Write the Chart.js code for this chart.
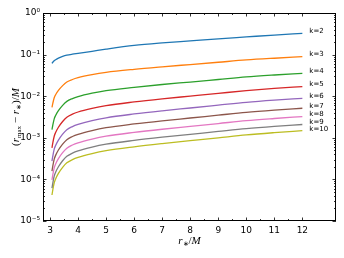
<!DOCTYPE html>
<html>
<head>
<meta charset="utf-8">
<script src="https://cdn.jsdelivr.net/npm/chart.js@4"></script>
<style>
  html, body { margin: 0; padding: 0; background: #fff; }
</style>
</head>
<body>
<canvas id="rmaxChart" width="344" height="258"></canvas>
<script>
// r_* / M sample positions
const rStar = [3.07, 3.1, 3.15, 3.2, 3.3, 3.45, 3.6, 3.8, 4, 4.5, 5, 6, 7, 8, 9, 10, 11, 12];

// (r_max - r_*) / M for each k
const k2  = [0.0617, 0.0653, 0.0708, 0.075, 0.0822, 0.0902, 0.0966, 0.1023, 0.107, 0.120, 0.135, 0.166, 0.191, 0.214, 0.240, 0.266, 0.295, 0.324];
const k3  = [0.00537, 0.00673, 0.00916, 0.01084, 0.0138, 0.01797, 0.0219, 0.0252, 0.0278, 0.0329, 0.0373, 0.0442, 0.0508, 0.0577, 0.0655, 0.0743, 0.0818, 0.0891];
const k4  = [0.00158, 0.00203, 0.00286, 0.00345, 0.00449, 0.00603, 0.0075, 0.00876, 0.00977, 0.0118, 0.0136, 0.0163, 0.0191, 0.0219, 0.0252, 0.029, 0.0323, 0.0355];
const k5  = [5.75e-4, 7.54e-4, 1.09e-3, 1.341e-3, 1.79e-3, 2.466e-3, 3.13e-3, 3.703e-3, 4.17e-3, 5.1e-3, 5.94e-3, 7.28e-3, 8.63e-3, 1.005e-2, 1.17e-2, 1.36e-2, 1.535e-2, 1.70e-2];
const k6  = [2.75e-4, 3.64e-4, 5.33e-4, 6.57e-4, 8.83e-4, 1.229e-3, 1.567e-3, 1.864e-3, 2.10e-3, 2.59e-3, 3.03e-3, 3.74e-3, 4.45e-3, 5.2e-3, 6.08e-3, 7.11e-3, 8.04e-3, 8.91e-3];
const k7  = [1.585e-4, 2.09e-4, 3.07e-4, 3.78e-4, 5.08e-4, 7.07e-4, 9.02e-4, 1.073e-3, 1.21e-3, 1.49e-3, 1.746e-3, 2.15e-3, 2.56e-3, 2.99e-3, 3.50e-3, 4.09e-3, 4.62e-3, 5.13e-3];
const k8  = [9.77e-5, 1.293e-4, 1.90e-4, 2.344e-4, 3.155e-4, 4.40e-4, 5.62e-4, 6.70e-4, 7.57e-4, 9.33e-4, 1.094e-3, 1.349e-3, 1.607e-3, 1.88e-3, 2.20e-3, 2.58e-3, 2.91e-3, 3.24e-3];
const k9  = [6.17e-5, 8.17e-5, 1.205e-4, 1.488e-4, 2.01e-4, 2.805e-4, 3.59e-4, 4.28e-4, 4.84e-4, 5.98e-4, 7.01e-4, 8.66e-4, 1.033e-3, 1.21e-3, 1.42e-3, 1.66e-3, 1.88e-3, 2.09e-3];
const k10 = [4.22e-5, 5.61e-5, 8.3e-5, 1.026e-4, 1.39e-4, 1.947e-4, 2.50e-4, 2.985e-4, 3.38e-4, 4.18e-4, 4.91e-4, 6.08e-4, 7.26e-4, 8.52e-4, 1.0e-3, 1.175e-3, 1.33e-3, 1.48e-3];

const kLabels = ['k=2', 'k=3', 'k=4', 'k=5', 'k=6', 'k=7', 'k=8', 'k=9', 'k=10'];
const xTicks = [3, 4, 5, 6, 7, 8, 9, 10, 11, 12];
const yTicks = [1e-5, 1e-4, 1e-3, 1e-2, 1e-1, 1];

const series = [k2, k3, k4, k5, k6, k7, k8, k9, k10];
const colors = ['#1f77b4', '#ff7f0e', '#2ca02c', '#d62728', '#9467bd',
                '#8c564b', '#e377c2', '#7f7f7f', '#bcbd22'];

const SUP = { '-': '\u207B', '0': '\u2070', '1': '\u00B9', '2': '\u00B2', '3': '\u00B3',
              '4': '\u2074', '5': '\u2075', '6': '\u2076', '7': '\u2077', '8': '\u2078', '9': '\u2079' };
function powerLabel(v) {
    const e = Math.round(Math.log10(v));
    return '10' + String(e).split('').map(c => SUP[c]).join('');
}

// draw a run of text pieces (italic / subscript) centred on cx
function drawPieces(ctx, pieces, cx, baseline) {
    let total = 0;
    pieces.forEach(p => { ctx.font = p.font; p.w = ctx.measureText(p.t).width; total += p.w; });
    let x = cx - total / 2;
    ctx.textAlign = 'left';
    ctx.textBaseline = 'alphabetic';
    pieces.forEach(p => { ctx.font = p.font; ctx.fillText(p.t, x, baseline + (p.dy || 0)); x += p.w; });
}

const serif = '"Liberation Serif"';
const ital = 'italic 11px ' + serif;
const up = '11px ' + serif;
const sub = '7px ' + serif;

// matplotlib-ish frame, inward ticks, titles and end labels
const decorations = {
    id: 'decorations',
    afterDraw(chart) {
        const { ctx, chartArea: a, scales: { x, y } } = chart;
        ctx.save();
        ctx.strokeStyle = '#000';
        ctx.lineWidth = 1;
        ctx.strokeRect(Math.round(a.left) + 0.5, Math.round(a.top) + 0.5,
                       Math.round(a.right - a.left) - 1, Math.round(a.bottom - a.top) - 1);

        ctx.lineWidth = 0.8;
        ctx.beginPath();
        for (let v = 3; v <= 12.001; v += 0.5) {
            const len = Number.isInteger(v) ? 3.5 : 2;
            const px = Math.round(x.getPixelForValue(v)) + 0.5;
            ctx.moveTo(px, a.bottom); ctx.lineTo(px, a.bottom - len);
            ctx.moveTo(px, a.top); ctx.lineTo(px, a.top + len);
        }
        for (let e = -5; e <= 0; e++) {
            for (let m = 1; m <= 9; m++) {
                const v = m * Math.pow(10, e);
                if (v > 1.0001) break;
                const len = m === 1 ? 3.5 : 2;
                const py = Math.round(y.getPixelForValue(v)) + 0.5;
                ctx.moveTo(a.left, py); ctx.lineTo(a.left + len, py);
                ctx.moveTo(a.right, py); ctx.lineTo(a.right - len, py);
            }
        }
        ctx.stroke();

        // end-of-line labels
        ctx.fillStyle = '#000';
        ctx.font = '7px "DejaVu Sans"';
        ctx.textAlign = 'left';
        ctx.textBaseline = 'middle';
        series.forEach((s, i) => {
            ctx.fillText(kLabels[i], x.getPixelForValue(12.25), y.getPixelForValue(s[s.length - 1]) - 2);
        });

        // x title: r_* / M
        drawPieces(ctx, [
            { t: 'r', font: ital },
            { t: '\u2217', font: sub, dy: 2 },
            { t: '/', font: up },
            { t: 'M', font: ital }
        ], (a.left + a.right) / 2, 244);

        // y title: (r_max - r_*) / M
        ctx.translate(15, (a.top + a.bottom) / 2);
        ctx.rotate(-Math.PI / 2);
        drawPieces(ctx, [
            { t: '(', font: up },
            { t: 'r', font: ital },
            { t: 'max', font: sub, dy: 2 },
            { t: ' \u2212 ', font: up },
            { t: 'r', font: ital },
            { t: '\u2217', font: sub, dy: 2 },
            { t: ')/', font: up },
            { t: 'M', font: ital }
        ], 0, 4);
        ctx.restore();
    }
};

new Chart(document.getElementById('rmaxChart'), {
    type: 'line',
    data: {
        datasets: series.map((s, i) => ({
            label: kLabels[i],
            data: rStar.map((r, j) => ({ x: r, y: s[j] })),
            borderColor: colors[i],
            borderWidth: 1.3,
            pointRadius: 0,
            fill: false,
            cubicInterpolationMode: 'monotone'
        }))
    },
    options: {
        responsive: false,
        animation: false,
        layout: { padding: { top: 13, right: 8, left: 0, bottom: 0 } },
        plugins: { legend: { display: false }, tooltip: { enabled: false } },
        scales: {
            x: {
                type: 'linear',
                min: 2.75,
                max: 13.2,
                afterBuildTicks: s => { s.ticks = xTicks.map(v => ({ value: v })); },
                afterFit: s => { s.height = 37; },
                grid: { display: false, drawTicks: false },
                border: { display: false },
                ticks: { color: '#000', padding: 4, maxRotation: 0, font: { size: 9, family: 'DejaVu Sans' } }
            },
            y: {
                type: 'logarithmic',
                min: 1e-5,
                max: 1,
                afterBuildTicks: s => { s.ticks = yTicks.map(v => ({ value: v })); },
                afterFit: s => { s.width = 43; },
                grid: { display: false, drawTicks: false },
                border: { display: false },
                ticks: { color: '#000', padding: 3, font: { size: 9, family: 'DejaVu Sans' }, callback: v => powerLabel(v) }
            }
        }
    },
    plugins: [decorations]
});
</script>
</body>
</html>
